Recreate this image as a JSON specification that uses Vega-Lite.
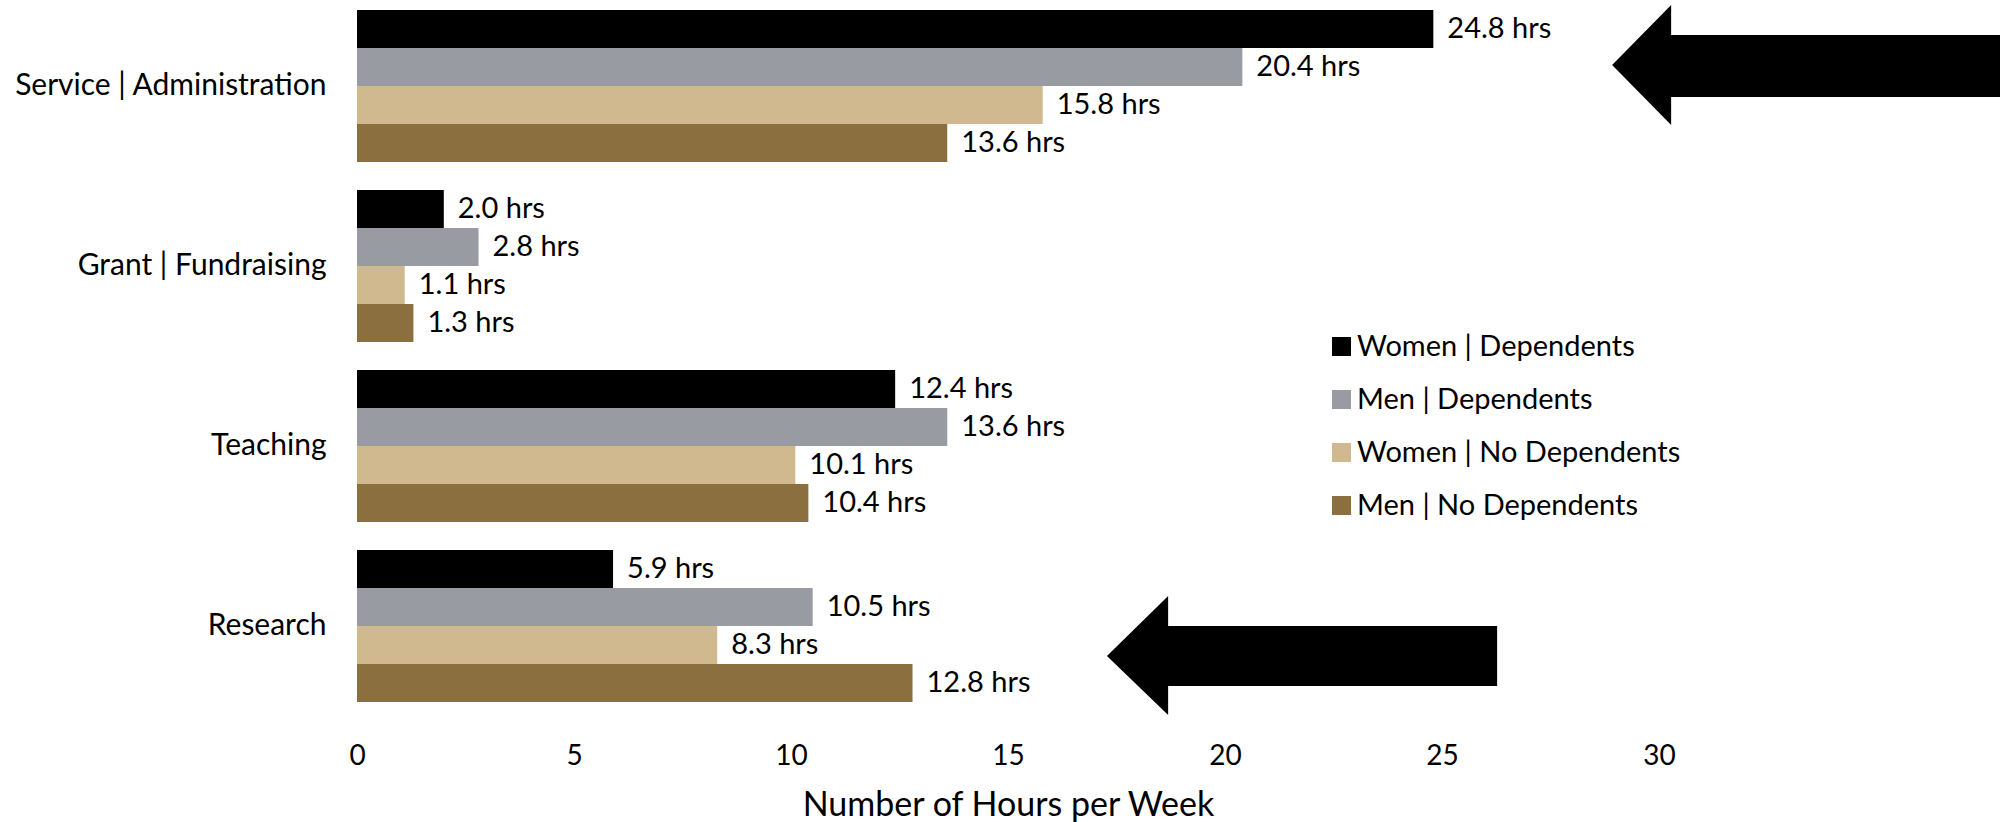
{
  "$schema": "https://vega.github.io/schema/vega-lite/v6.json",
  "width": 1302,
  "height": 708,
  "autosize": {"type": "none"},
  "padding": {"left": 357, "top": 2, "right": 341, "bottom": 112},
  "background": "white",
  "config": {"view": {"stroke": null}, "font": "Lato"},
  "datasets": {
    "bars": [
      {"cat": "Service | Administration", "series": "Women | Dependents", "hours": 24.8, "label": "24.8 hrs"},
      {"cat": "Service | Administration", "series": "Men | Dependents", "hours": 20.4, "label": "20.4 hrs"},
      {"cat": "Service | Administration", "series": "Women | No Dependents", "hours": 15.8, "label": "15.8 hrs"},
      {"cat": "Service | Administration", "series": "Men | No Dependents", "hours": 13.6, "label": "13.6 hrs"},
      {"cat": "Grant | Fundraising", "series": "Women | Dependents", "hours": 2.0, "label": "2.0 hrs"},
      {"cat": "Grant | Fundraising", "series": "Men | Dependents", "hours": 2.8, "label": "2.8 hrs"},
      {"cat": "Grant | Fundraising", "series": "Women | No Dependents", "hours": 1.1, "label": "1.1 hrs"},
      {"cat": "Grant | Fundraising", "series": "Men | No Dependents", "hours": 1.3, "label": "1.3 hrs"},
      {"cat": "Teaching", "series": "Women | Dependents", "hours": 12.4, "label": "12.4 hrs"},
      {"cat": "Teaching", "series": "Men | Dependents", "hours": 13.6, "label": "13.6 hrs"},
      {"cat": "Teaching", "series": "Women | No Dependents", "hours": 10.1, "label": "10.1 hrs"},
      {"cat": "Teaching", "series": "Men | No Dependents", "hours": 10.4, "label": "10.4 hrs"},
      {"cat": "Research", "series": "Women | Dependents", "hours": 5.9, "label": "5.9 hrs"},
      {"cat": "Research", "series": "Men | Dependents", "hours": 10.5, "label": "10.5 hrs"},
      {"cat": "Research", "series": "Women | No Dependents", "hours": 8.3, "label": "8.3 hrs"},
      {"cat": "Research", "series": "Men | No Dependents", "hours": 12.8, "label": "12.8 hrs"}
    ],
    "shafts": [
      {"arrow": "top", "ax": 30.2, "ax2": 37.9, "ay": 0.186, "ay2": 0.537},
      {"arrow": "bottom", "ax": 18.6, "ax2": 26.27, "ay": 3.525, "ay2": 3.864}
    ],
    "heads": [
      {"arrow": "top", "ax": 28.92, "ay": 0.356, "ay2": 0.356},
      {"arrow": "top", "ax": 30.28, "ay": 0.017, "ay2": 0.695},
      {"arrow": "bottom", "ax": 17.28, "ay": 3.695, "ay2": 3.695},
      {"arrow": "bottom", "ax": 18.69, "ay": 3.356, "ay2": 4.028}
    ]
  },
  "layer": [
    {
      "data": {"name": "bars"},
      "encoding": {
        "y": {
          "field": "cat", "type": "nominal",
          "sort": ["Service | Administration", "Grant | Fundraising", "Teaching", "Research"],
          "scale": {"paddingInner": 0.1556, "paddingOuter": 0.0444},
          "axis": {"title": null, "domain": false, "ticks": false, "labelFontSize": 30, "labelColor": "black", "labelPadding": 31, "labelFont": "Lato", "labelLimit": 0}
        },
        "yOffset": {
          "field": "series", "type": "nominal",
          "sort": ["Women | Dependents", "Men | Dependents", "Women | No Dependents", "Men | No Dependents"],
          "scale": {"paddingInner": 0, "paddingOuter": 0}
        },
        "x": {
          "field": "hours", "type": "quantitative",
          "scale": {"domain": [0, 30], "nice": false},
          "title": "Number of Hours per Week",
          "axis": {"values": [0, 5, 10, 15, 20, 25, 30], "grid": false, "domain": false, "ticks": false, "labelFlush": false, "labelFontSize": 28, "labelPadding": 32, "labelColor": "black", "titleFontSize": 34, "titleFontWeight": "normal", "titleColor": "black", "titlePadding": 18, "labelFont": "Lato", "titleFont": "Lato"}
        }
      },
      "layer": [
        {
          "mark": {"type": "bar"},
          "encoding": {
            "color": {
              "field": "series", "type": "nominal",
              "scale": {
                "domain": ["Women | Dependents", "Men | Dependents", "Women | No Dependents", "Men | No Dependents"],
                "range": ["#000000", "#989ba2", "#d0b98f", "#8c6f3e"]
              },
              "legend": {"orient": "none", "legendX": 970, "legendY": 330, "title": null, "symbolType": "square", "symbolSize": 361, "symbolStrokeWidth": 0, "labelFontSize": 29, "labelOffset": 1, "rowPadding": 23, "labelColor": "black", "padding": 0, "labelFont": "Lato", "labelLimit": 0}
            }
          }
        },
        {
          "mark": {"type": "text", "align": "left", "baseline": "middle", "dx": 14, "fontSize": 29, "color": "black", "font": "Lato"},
          "encoding": {"text": {"field": "label"}}
        }
      ]
    },
    {
      "data": {"name": "shafts"},
      "mark": {"type": "rect", "color": "black", "opacity": 1},
      "encoding": {
        "x": {"field": "ax", "type": "quantitative", "title": "Number of Hours per Week"},
        "x2": {"field": "ax2"},
        "y": {"field": "ay", "type": "quantitative", "scale": {"domain": [0, 4], "reverse": true, "nice": false, "zero": false}, "axis": null},
        "y2": {"field": "ay2"}
      }
    },
    {
      "data": {"name": "heads"},
      "mark": {"type": "area", "color": "black", "opacity": 1, "orient": "vertical"},
      "encoding": {
        "x": {"field": "ax", "type": "quantitative", "title": "Number of Hours per Week"},
        "y": {"field": "ay", "type": "quantitative", "scale": {"domain": [0, 4], "reverse": true, "nice": false, "zero": false}, "axis": null},
        "y2": {"field": "ay2"},
        "detail": {"field": "arrow"}
      }
    }
  ],
  "resolve": {"scale": {"y": "independent"}}
}
